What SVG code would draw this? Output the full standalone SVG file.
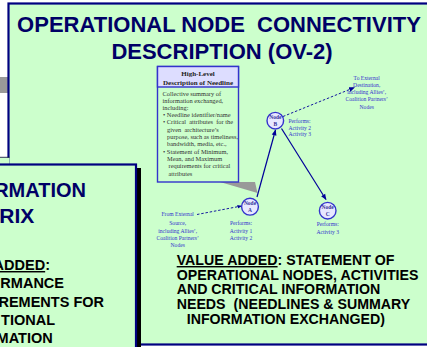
<svg xmlns="http://www.w3.org/2000/svg" width="427" height="347" viewBox="0 0 427 347">
  <style>
    .panel { fill: #CCFFCC; stroke: #000080; stroke-width: 2.2; }
    .title { font-family: "Liberation Sans", Arial, sans-serif; font-weight: bold; fill: #000066; }
    .bold { font-family: "Liberation Sans", Arial, sans-serif; font-weight: bold; fill: #000000; }
    .note { font-family: "Liberation Serif", "Times New Roman", serif; font-size: 6.4px; fill: #333333; }
    .head { font-family: "Liberation Serif", "Times New Roman", serif; font-size: 7px; font-weight: bold; fill: #222222; text-anchor: middle; }
    .lbl { font-family: "Liberation Serif", "Times New Roman", serif; font-size: 5.6px; fill: #3333CC; }
    .node circle { fill: #E8E8FF; stroke: #3333CC; stroke-width: 1.4; }
    .node text { font-family: "Liberation Serif", "Times New Roman", serif; font-size: 5.5px; font-weight: bold; fill: #333399; text-anchor: middle; }
    .solid { stroke: #000099; stroke-width: 1.2; fill: none; }
    .dash { stroke: #000099; stroke-width: 0.9; stroke-dasharray: 2.5 1.8; fill: none; }
  </style>
  <defs>
    <marker id="arrow" viewBox="0 0 10 10" refX="9" refY="5" markerWidth="6" markerHeight="6" markerUnits="userSpaceOnUse" orient="auto">
      <path d="M0,1 L10,5 L0,9 Z" fill="#000099"/>
    </marker>
    <marker id="arrowSmall" viewBox="0 0 10 10" refX="9" refY="5" markerWidth="4.5" markerHeight="4.5" markerUnits="userSpaceOnUse" orient="auto">
      <path d="M0,1 L10,5 L0,9 Z" fill="#000099"/>
    </marker>
  </defs>

  <rect width="427" height="347" fill="#FFFFFF"/>
  <!-- edge of a slide further back -->
  <rect x="0" y="77" width="8" height="16" fill="#999999"/>

  <!-- OV-2 slide -->
  <g id="ov2-slide">
    <rect class="panel" x="8.5" y="3.5" width="430" height="341"/>
    <text class="title" font-size="22" x="219" y="32" text-anchor="middle" xml:space="preserve">OPERATIONAL NODE  CONNECTIVITY</text>
    <text class="title" font-size="22" x="222" y="59" text-anchor="middle">DESCRIPTION (OV-2)</text>
  </g>

  <!-- needline description callout -->
  <g id="needline-callout">
    <polygon points="220,182 255,182 257.5,193" fill="#999999"/>
    <rect x="157.5" y="66.5" width="81" height="115.5" fill="#CCFFCC" stroke="#3333CC" stroke-width="1.4"/>
    <rect x="157.5" y="66.5" width="81" height="20.5" fill="#DDDDFF" stroke="#3333CC" stroke-width="1.4"/>
    <text class="head" x="198" y="76">High-Level</text>
    <text class="head" x="198" y="84.5">Description of Needline</text>
    <g class="note">
      <text x="162.5" y="95.5">Collective summary of</text>
      <text x="162.5" y="102.5">information exchanged,</text>
      <text x="162.5" y="109.5">including:</text>
      <text x="163" y="116.5">•  Needline identifier/name</text>
      <text x="163" y="124" xml:space="preserve">• Critical  attributes  for the</text>
      <text x="167" y="131.5" xml:space="preserve">given  architecture’s</text>
      <text x="167" y="139">purpose, such as timeliness,</text>
      <text x="167" y="146">bandwidth, media, etc.,</text>
      <text x="163" y="154">•  Statement of Minimum,</text>
      <text x="167" y="161">Mean, and Maximum</text>
      <text x="168.5" y="168">requirements for critical</text>
      <text x="168.5" y="176">attributes</text>
    </g>
  </g>

  <!-- connectors -->
  <g id="connectors">
    <line class="solid" x1="257" y1="197" x2="275.5" y2="130" marker-end="url(#arrow)"/>
    <line class="solid" x1="281.5" y1="128.5" x2="326" y2="199.5" marker-end="url(#arrow)"/>
    <line class="dash" x1="283" y1="116.5" x2="354.5" y2="87.5" marker-end="url(#arrow)"/>
    <line class="dash" x1="197" y1="214.5" x2="241.5" y2="206" marker-end="url(#arrowSmall)"/>
  </g>

  <!-- operational nodes -->
  <g id="node-a" class="node">
    <circle cx="250" cy="206.7" r="8.4"/>
    <text x="250" y="205.2">Node</text>
    <text x="250" y="211.8">A</text>
  </g>
  <g id="node-b" class="node">
    <circle cx="275.3" cy="120.7" r="8.3"/>
    <text x="275.3" y="119.2">Node</text>
    <text x="275.3" y="125.8">B</text>
  </g>
  <g id="node-c" class="node">
    <circle cx="327.7" cy="210.7" r="8.3"/>
    <text x="327.7" y="209.2">Node</text>
    <text x="327.7" y="215.8">C</text>
  </g>

  <!-- node and endpoint labels -->
  <g id="labels" class="lbl">
    <text text-anchor="middle" x="366.7" y="79.5">To External</text>
    <text text-anchor="middle" x="366.7" y="87">Destination,</text>
    <text text-anchor="middle" x="366.7" y="94">including Allies’,</text>
    <text text-anchor="middle" x="366.7" y="101">Coalition Partners’</text>
    <text text-anchor="middle" x="366.7" y="108.5">Nodes</text>

    <text x="288.5" y="123">Performs:</text>
    <text x="288.5" y="129.7">Activity 2</text>
    <text x="288.5" y="136.4">Activity 3</text>

    <text text-anchor="middle" x="177.7" y="216">From External</text>
    <text text-anchor="middle" x="177.7" y="225">Source,</text>
    <text text-anchor="middle" x="177.7" y="232.5">including Allies’,</text>
    <text text-anchor="middle" x="177.7" y="239.5">Coalition Partners’</text>
    <text text-anchor="middle" x="177.7" y="247">Nodes</text>

    <text text-anchor="middle" x="241" y="225">Performs:</text>
    <text text-anchor="middle" x="241" y="233">Activity 1</text>
    <text text-anchor="middle" x="241" y="239.7">Activity 2</text>

    <text text-anchor="middle" x="327.7" y="226">Performs:</text>
    <text text-anchor="middle" x="327.7" y="234.3">Activity 3</text>
  </g>

  <!-- value statement -->
  <g id="value-added" class="bold" font-size="14.2">
    <text x="176.7" y="265"><tspan text-decoration="underline">VALUE ADDED</tspan>: STATEMENT OF</text>
    <text x="176.7" y="279.7">OPERATIONAL NODES, ACTIVITIES</text>
    <text x="176.7" y="294.4">AND CRITICAL INFORMATION</text>
    <text x="176.7" y="309" xml:space="preserve">NEEDS  (NEEDLINES &amp; SUMMARY</text>
    <text x="186.7" y="323.7">INFORMATION EXCHANGED)</text>
  </g>

  <!-- overlapping slide in front, left -->
  <g id="matrix-slide">
    <rect x="0" y="157.5" width="9.5" height="7" fill="#CCFFCC"/>
    <line x1="0" y1="157.3" x2="9.5" y2="157.3" stroke="#000033" stroke-width="0.8"/>
    <rect x="-10" y="168" width="151" height="190" fill="#000000"/>
    <rect class="panel" x="-10" y="164.5" width="146" height="190"/>
    <text class="title" font-size="20" x="86" y="196.7" text-anchor="end">RMATION</text>
    <text class="title" font-size="21" x="34.3" y="222.7" text-anchor="end">RIX</text>
    <g class="bold" font-size="14.5" text-anchor="end">
      <text x="50" y="270"><tspan text-decoration="underline">ADDED</tspan>:</text>
      <text x="64" y="288.3">RMANCE</text>
      <text x="104" y="306.7">REMENTS FOR</text>
      <text x="55" y="325">TIONAL</text>
      <text x="52.7" y="342.7">MATION</text>
    </g>
  </g>
</svg>
